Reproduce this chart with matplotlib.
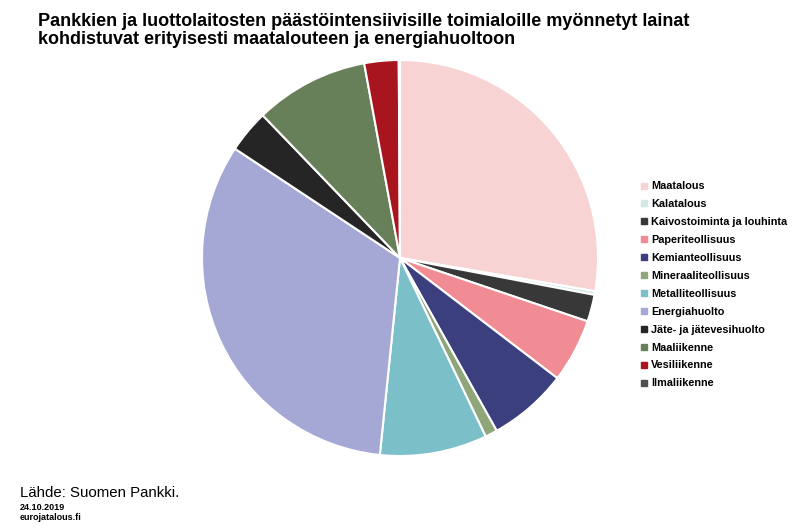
import matplotlib.pyplot as plt
from matplotlib.lines import Line2D

plt.rcParams['font.family'] = ['Liberation Sans', 'DejaVu Sans']

sectors = ['Maatalous', 'Kalatalous', 'Kaivostoiminta ja louhinta', 'Paperiteollisuus',
           'Kemianteollisuus', 'Mineraaliteollisuus', 'Metalliteollisuus', 'Energiahuolto',
           'Jäte- ja jätevesihuolto', 'Maaliikenne', 'Vesiliikenne', 'Ilmaliikenne']
shares = [27.7, 0.3, 2.2, 5.2, 6.5, 1.0, 8.75, 32.7, 3.5, 9.3, 2.8, 0.1]
colors = ['#f8d3d4', '#d5e8e6', '#383838', '#f28c94', '#3b3f7d', '#8fa67a',
          '#7bbfc9', '#a5a8d4', '#252525', '#68805a', '#a8151f', '#505050']

fig = plt.figure(figsize=(8.01, 5.29), dpi=100)
ax = fig.add_axes([(400 - 198) / 801, (529 - 258 - 198) / 529, 396 / 801, 396 / 529])
ax.pie(shares, colors=colors, startangle=90, counterclock=False, radius=1,
       wedgeprops=dict(edgecolor='white', linewidth=1.5))
ax.set_xlim(-1.0, 1.0)
ax.set_ylim(-1.0, 1.0)
ax.set_aspect('equal')
ax.axis('off')

fig.text(38 / 801, 1 - 13 / 529,
         'Pankkien ja luottolaitosten päästöintensiivisille toimialoille myönnetyt lainat\n'
         'kohdistuvat erityisesti maatalouteen ja energiahuoltoon',
         fontsize=13, fontweight='bold', va='top', ha='left', linespacing=1.05)

handles = [Line2D([], [], marker='s', linestyle='none', markersize=4, color=c) for c in colors]
fig.legend(handles, sectors, loc='upper left', bbox_to_anchor=(636 / 801, 1 - 177 / 529),
           frameon=False, prop=dict(size=7.8, weight='bold'), handlelength=0.6,
           handletextpad=0.4, labelspacing=0.73, borderaxespad=0)

fig.text(20 / 801, 1 - 493 / 529, 'Lähde: Suomen Pankki.', fontsize=10.8, va='center')
fig.text(20 / 801, 1 - 507 / 529, '24.10.2019', fontsize=6.5, fontweight='bold', va='center')
fig.text(20 / 801, 1 - 518 / 529, 'eurojatalous.fi', fontsize=6.5, fontweight='bold', va='center')

fig.savefig('out.png', dpi=100)
